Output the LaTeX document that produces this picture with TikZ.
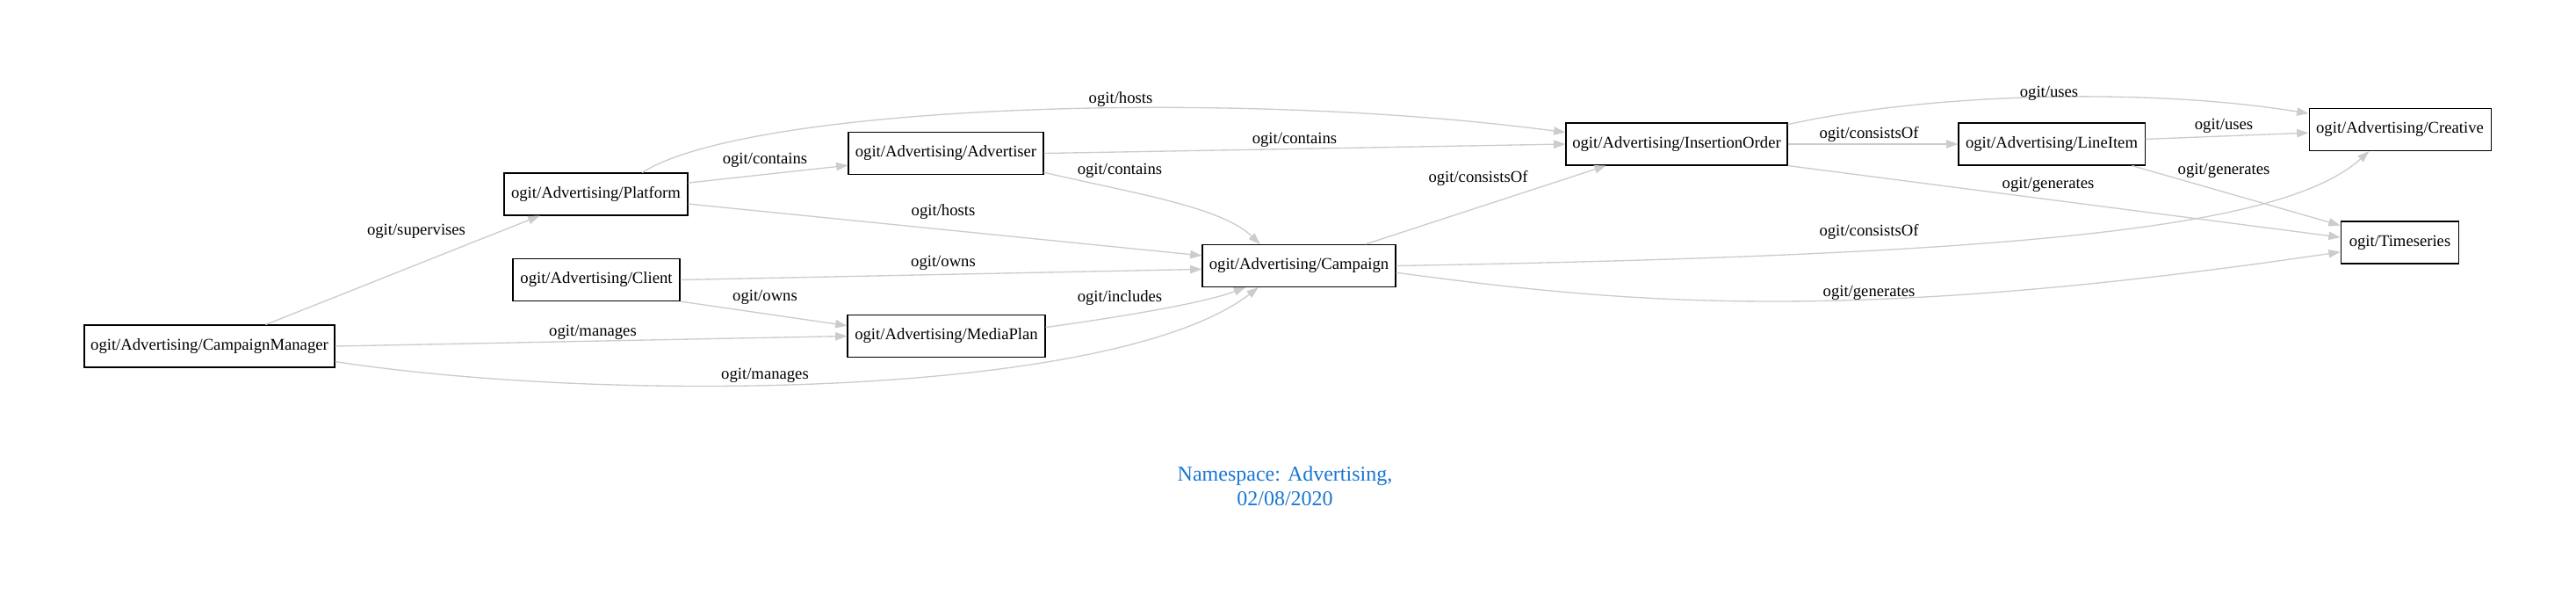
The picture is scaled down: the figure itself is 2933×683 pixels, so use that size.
\documentclass[tikz,border=0pt]{standalone}
\usepackage{fontspec}
\setmainfont{Liberation Serif}
\usepackage{xcolor}
\usepackage{tikz}
\usetikzlibrary{arrows.meta}
\definecolor{edgegray}{HTML}{CCCCCC}
\definecolor{nsblue}{HTML}{1976D2}
\tikzstyle{entity}=[draw, rectangle, line width=0.8pt, inner xsep=3pt, minimum height=36pt, font=\fontsize{14}{16}\selectfont]
\tikzstyle{rel}=[draw=edgegray, line width=1pt, -{Triangle[length=10pt,width=7pt]}]
\tikzstyle{lbl}=[draw=none, inner sep=.4mm, font=\fontsize{14}{16}\selectfont]

\begin{document}
\begin{tikzpicture}[x=0.75pt, y=-0.75pt]
\useasboundingbox (0,0) rectangle (2933,683);
\foreach \n/\x/\y/\w in {CampaignManager/238.5/394/285, Platform/678.5/221/209, Client/679/318.5/190, Advertiser/1077/174.5/222, MediaPlan/1077.5/382.5/225, Campaign/1479/302.5/220, InsertionOrder/1909/164/252, LineItem/2336/164/212, Creative/2732.5/147.5/207}
  \node[entity, minimum width=\w*0.75pt] (\n) at (\x,\y) {ogit/Advertising/\n};
\node[entity, minimum width=101pt] (Timeseries) at (2732.5,276) {ogit/Timeseries};
\node[text=nsblue, align=center, font=\fontsize{18}{21}\selectfont] (title) at (1463,553) {Namespace: Advertising,\\02/08/2020};
% straight relations
\foreach \f/\a/\t/\b/\lx/\ly/\l in {CampaignManager/21/Platform/201/474/263/supervises,
  CampaignManager/east/MediaPlan/west/675/378/manages,
  Platform/7/Advertiser/187/871/182/contains,
  Platform/354/Campaign/174/1074/241/hosts,
  Client/east/Campaign/182/1074/299/owns,
  Client/south east/MediaPlan/174/871/338/owns,
  Advertiser/east/InsertionOrder/west/1474/159/contains,
  Campaign/18/InsertionOrder/197/1683/203/consistsOf,
  InsertionOrder/east/LineItem/west/2128/153/consistsOf,
  InsertionOrder/south east/Timeseries/175/2332/210/generates,
  LineItem/3/Creative/182/2532/143/uses,
  LineItem/345/Timeseries/164/2532/194/generates}
  \draw[rel] (\f.\a) -- (\t.\b) node[lbl] at (\lx,\ly) {ogit/\l};
% curved relations
\draw[rel] (CampaignManager.353) .. controls (700,460) and (1270,452) .. (Campaign.208) node[lbl] at (871,427) {ogit/manages};
\draw[rel] (Platform.25) .. controls (850,120) and (1400,100) .. (InsertionOrder.174) node[lbl] at (1276,113) {ogit/hosts};
\draw[rel] (Advertiser.349) .. controls (1290,220) and (1390,235) .. (Campaign.151) node[lbl] at (1275,194) {ogit/contains};
\draw[rel] (MediaPlan.5) .. controls (1280,360) and (1370,345) .. (Campaign.202) node[lbl] at (1275,339) {ogit/includes};
\draw[rel] (Campaign.east) .. controls (2300,290) and (2600,260) .. (Creative.215) node[lbl] at (2128,264) {ogit/consistsOf};
\draw[rel] (Campaign.356) .. controls (1850,345) and (2100,370) .. (Timeseries.189) node[lbl] at (2128,333) {ogit/generates};
\draw[rel] (InsertionOrder.10) .. controls (2200,105) and (2450,100) .. (Creative.170) node[lbl] at (2333,106) {ogit/uses};
\end{tikzpicture}
\end{document}
